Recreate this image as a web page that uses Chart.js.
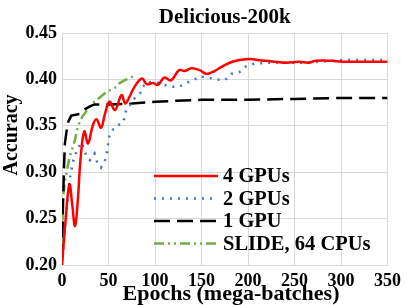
<!DOCTYPE html>
<html>
<head>
<meta charset="utf-8">
<script src="https://cdn.jsdelivr.net/npm/chart.js@4"></script>
<style>
  body { margin: 0; background: #fff; }
  canvas { display: block; }
</style>
</head>
<body>
<canvas id="accuracyChart" width="407" height="305"></canvas>
<script>
// values
const chartTitle = 'Delicious-200k';
const xTitle = 'Epochs (mega-batches)';
const yTitle = 'Accuracy';
const seriesLabels = ['4 GPUs', '2 GPUs', '1 GPU', 'SLIDE, 64 CPUs'];
const xTicks = [0, 50, 100, 150, 200, 250, 300, 350];
const yTicks = [0.20, 0.25, 0.30, 0.35, 0.40, 0.45];

const gpu4Epochs = [0, 4, 8, 11, 14, 17, 20, 24, 28, 33, 37, 42, 46, 51, 57, 64, 68, 72, 78, 86, 91, 98, 103, 110, 117, 126, 132, 139, 148, 155, 162, 169, 176, 183, 191, 203, 210, 219, 230, 241, 255, 265, 273, 290, 301, 320, 335, 350];
const gpu4Acc = [0.200, 0.250, 0.287, 0.265, 0.242, 0.270, 0.315, 0.344, 0.331, 0.350, 0.357, 0.348, 0.362, 0.376, 0.367, 0.383, 0.374, 0.380, 0.392, 0.401, 0.395, 0.396, 0.394, 0.402, 0.399, 0.410, 0.409, 0.412, 0.410, 0.406, 0.408, 0.412, 0.416, 0.419, 0.421, 0.422, 0.421, 0.420, 0.419, 0.418, 0.419, 0.418, 0.420, 0.420, 0.419, 0.419, 0.419, 0.419];

const gpu2Epochs = [0, 4, 8, 12, 17, 21, 26, 30, 35, 38, 42, 46, 48, 51, 55, 58, 62, 66, 69, 73, 76, 80, 84, 87, 91, 96, 101, 110, 119, 126, 133, 141, 148, 157, 166, 175, 182, 191, 198, 207, 223, 241, 258, 276, 290, 305, 330, 350];
const gpu2Acc = [0.200, 0.250, 0.291, 0.312, 0.326, 0.332, 0.318, 0.313, 0.320, 0.310, 0.305, 0.312, 0.320, 0.340, 0.346, 0.347, 0.352, 0.354, 0.367, 0.372, 0.378, 0.381, 0.385, 0.392, 0.397, 0.397, 0.397, 0.394, 0.392, 0.392, 0.396, 0.399, 0.403, 0.402, 0.400, 0.399, 0.406, 0.408, 0.414, 0.417, 0.418, 0.418, 0.418, 0.419, 0.420, 0.421, 0.421, 0.421];

const gpu1Epochs = [0, 1, 2, 3, 5, 7, 10, 15, 20, 25, 30, 35, 50, 75, 100, 150, 200, 250, 300, 350];
const gpu1Acc = [0.205, 0.260, 0.300, 0.330, 0.345, 0.355, 0.361, 0.362, 0.363, 0.368, 0.371, 0.373, 0.373, 0.374, 0.376, 0.378, 0.378, 0.379, 0.380, 0.380];

const slideEpochs = [0, 1, 3, 5, 8, 11, 14, 16, 19, 22, 25, 30, 35, 40, 46, 51, 57, 62, 67, 72, 76, 80];
const slideAcc = [0.220, 0.270, 0.290, 0.300, 0.316, 0.325, 0.335, 0.345, 0.354, 0.360, 0.364, 0.371, 0.376, 0.380, 0.385, 0.388, 0.391, 0.396, 0.399, 0.401, 0.403, 0.405];

const serif = "'Liberation Serif', 'DejaVu Serif', serif";

const toPoints = (xs, ys) => xs.map((x, i) => ({ x: x, y: ys[i] }));

const datasets = [
    {
        label: seriesLabels[0],
        data: toPoints(gpu4Epochs, gpu4Acc),
        borderColor: '#ff0000',
        borderWidth: 2.5,
        tension: 0.4
    },
    {
        label: seriesLabels[1],
        data: toPoints(gpu2Epochs, gpu2Acc),
        borderColor: '#4472c4',
        borderWidth: 2.5,
        borderDash: [2, 6]
    },
    {
        label: seriesLabels[2],
        data: toPoints(gpu1Epochs, gpu1Acc),
        borderColor: '#000000',
        borderWidth: 2.5,
        borderDash: [16, 7]
    },
    {
        label: seriesLabels[3],
        data: toPoints(slideEpochs, slideAcc),
        borderColor: '#70ad47',
        borderWidth: 2.5,
        borderDash: [10, 4, 2, 4, 2, 4]
    }
];

// titles and the legend are drawn by hand so they sit where the original has them
const overlay = {
    id: 'overlay',
    afterDraw(chart) {
        const ctx = chart.ctx;
        const area = chart.chartArea;
        ctx.save();
        ctx.fillStyle = '#000';
        ctx.textAlign = 'center';
        ctx.textBaseline = 'middle';

        ctx.font = 'bold 21px ' + serif;
        ctx.fillText(chartTitle, (area.left + area.right) / 2, 18);

        ctx.font = 'bold 22px ' + serif;
        ctx.fillText(xTitle, 231, 294);

        ctx.font = 'bold 20px ' + serif;
        ctx.save();
        ctx.translate(12, 135);
        ctx.rotate(-Math.PI / 2);
        ctx.fillText(yTitle, 0, 0);
        ctx.restore();

        ctx.font = 'bold 20.5px ' + serif;
        ctx.textAlign = 'left';
        chart.data.datasets.forEach((ds, i) => {
            const y = 176 + i * 22.5;
            ctx.beginPath();
            ctx.strokeStyle = ds.borderColor;
            ctx.lineWidth = ds.borderWidth;
            ctx.setLineDash(ds.borderDash || []);
            ctx.moveTo(154, y);
            ctx.lineTo(218, y);
            ctx.stroke();
            ctx.setLineDash([]);
            ctx.fillText(ds.label, 223, y + 1);
        });
        ctx.restore();
    }
};

new Chart(document.getElementById('accuracyChart').getContext('2d'), {
    type: 'line',
    data: { datasets: datasets },
    options: {
        responsive: false,
        animation: false,
        layout: { padding: { top: 33, right: 18, left: 0, bottom: 0 } },
        elements: { point: { radius: 0 }, line: { fill: false } },
        plugins: {
            legend: { display: false },
            title: { display: false },
            tooltip: { enabled: false }
        },
        scales: {
            x: {
                type: 'linear',
                min: 0,
                max: 350,
                afterBuildTicks: s => { s.ticks = xTicks.map(v => ({ value: v })); },
                afterFit: s => { s.height = 40; },
                grid: { color: '#d9d9d9', drawTicks: false },
                border: { color: '#d9d9d9' },
                ticks: {
                    padding: 6,
                    color: '#000',
                    font: { family: serif, size: 18, weight: 'bold' }
                }
            },
            y: {
                min: 0.20,
                max: 0.45,
                afterBuildTicks: s => { s.ticks = yTicks.map(v => ({ value: v })); },
                afterFit: s => { s.width = 62; },
                grid: { color: '#d9d9d9', drawTicks: false },
                border: { color: '#d9d9d9' },
                ticks: {
                    padding: 5,
                    color: '#000',
                    font: { family: serif, size: 18, weight: 'bold' },
                    callback: v => v.toFixed(2)
                }
            }
        }
    },
    plugins: [overlay]
});
</script>
</body>
</html>
